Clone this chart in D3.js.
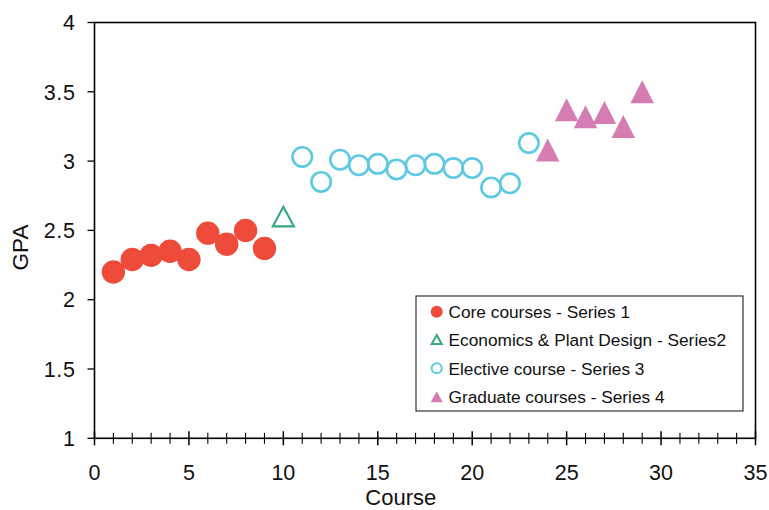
<!DOCTYPE html>
<html><head><meta charset="utf-8">
<script src="https://cdn.jsdelivr.net/npm/d3@7"></script>
<style>body{margin:0;background:#fff}svg{display:block;font-family:"Liberation Sans",Arial,sans-serif}</style>
</head><body><svg id="c" width="769" height="510"></svg>
<script>
const s1x=[1,2,3,4,5,6,7,8,9];
const s1y=[2.20,2.29,2.32,2.35,2.29,2.48,2.40,2.50,2.37];
const s2x=[10];
const s2y=[2.60];
const s3x=[11,12,13,14,15,16,17,18,19,20,21,22,23];
const s3y=[3.03,2.85,3.01,2.97,2.98,2.94,2.97,2.98,2.95,2.95,2.81,2.84,3.13];
const s4x=[24,25,26,27,28,29];
const s4y=[3.08,3.37,3.32,3.35,3.25,3.50];
const xTicks=[0,5,10,15,20,25,30,35];
const yTicks=[1,1.5,2,2.5,3,3.5,4];
const legendLabels=["Core courses - Series 1","Economics & Plant Design - Series2","Elective course - Series 3","Graduate courses - Series 4"];
const colors={red:"#EF4B3B",green:"#36A97F",cyan:"#5EC9E2",pink:"#D57CB3"};

const svg=d3.select("#c");
const L=94.5,R=755.5,T=22.5,B=438.3;
const x=d3.scaleLinear().domain([0,35]).range([L,R]);
const y=d3.scaleLinear().domain([1,4]).range([B,T]);

function tri(w,h){return `M0,${-h/2}L${w/2},${h/2}L${-w/2},${h/2}Z`;}

svg.append("rect").attr("x",L).attr("y",T).attr("width",R-L).attr("height",B-T)
  .attr("fill","none").attr("stroke","#000").attr("stroke-width",1.6);

const ya=svg.append("g");
yTicks.forEach(v=>{
  ya.append("line").attr("x1",L-7).attr("x2",L).attr("y1",y(v)).attr("y2",y(v)).attr("stroke","#000").attr("stroke-width",1.3);
  ya.append("text").attr("x",75.5).attr("y",y(v)).attr("dy","0.36em").attr("text-anchor","end")
    .attr("font-size",21.5).attr("letter-spacing",0.6).attr("fill","#111").text(d3.format("")(v));
});
const xa=svg.append("g");
d3.range(0,36).forEach(v=>{
  const major=v%5===0;
  xa.append("line").attr("x1",x(v)).attr("x2",x(v)).attr("y1",B-(major?7:5.5)).attr("y2",B+(major?7:5.5))
    .attr("stroke","#000").attr("stroke-width",major?1.5:1.1);
});
xTicks.forEach(v=>{
  xa.append("text").attr("x",x(v)).attr("y",472.5).attr("dy","0.36em").attr("text-anchor","middle")
    .attr("font-size",21.5).attr("fill","#111").text(v);
});
svg.append("text").attr("x",400.8).attr("y",497).attr("dy","0.36em").attr("text-anchor","middle")
  .attr("font-size",22).attr("fill","#111").text("Course");
svg.append("text").attr("transform",`translate(19.5,247.5) rotate(-90)`).attr("dy","0.36em")
  .attr("text-anchor","middle").attr("font-size",22.5).attr("fill","#111").text("GPA");

const g=svg.append("g");
g.selectAll(".s1").data(d3.zip(s1x,s1y)).enter().append("circle")
  .attr("cx",d=>x(d[0])).attr("cy",d=>y(d[1])).attr("r",11.7).attr("fill",colors.red);
g.selectAll(".s2").data(d3.zip(s2x,s2y)).enter().append("path")
  .attr("d",tri(21,19.5)).attr("transform",d=>`translate(${x(d[0])},${y(d[1])})`)
  .attr("fill","none").attr("stroke",colors.green).attr("stroke-width",2.2);
g.selectAll(".s3").data(d3.zip(s3x,s3y)).enter().append("circle")
  .attr("cx",d=>x(d[0])).attr("cy",d=>y(d[1])).attr("r",9.7).attr("fill","none")
  .attr("stroke",colors.cyan).attr("stroke-width",2.6);
g.selectAll(".s4").data(d3.zip(s4x,s4y)).enter().append("path")
  .attr("d",tri(23.5,23)).attr("transform",d=>`translate(${x(d[0])},${y(d[1])})`)
  .attr("fill",colors.pink);

const lg=svg.append("g");
lg.append("rect").attr("x",416).attr("y",296).attr("width",327).attr("height",115)
  .attr("fill","#fff").attr("stroke","#333").attr("stroke-width",1.2);
const ly=[311.7,339.5,368.3,396.7];
const mx=436.7;
lg.append("circle").attr("cx",mx).attr("cy",ly[0]).attr("r",6).attr("fill",colors.red);
lg.append("path").attr("d",tri(10,9)).attr("transform",`translate(${mx},${ly[1]})`).attr("fill","none").attr("stroke",colors.green).attr("stroke-width",2);
lg.append("circle").attr("cx",mx).attr("cy",ly[2]).attr("r",5).attr("fill","none").attr("stroke",colors.cyan).attr("stroke-width",2);
lg.append("path").attr("d",tri(12,11)).attr("transform",`translate(${mx},${ly[3]})`).attr("fill",colors.pink);
legendLabels.forEach((t,i)=>{
  lg.append("text").attr("x",448.5).attr("y",ly[i]).attr("dy","0.36em").attr("font-size",17.3)
    .attr("fill","#111").text(t);
});
</script></body></html>
